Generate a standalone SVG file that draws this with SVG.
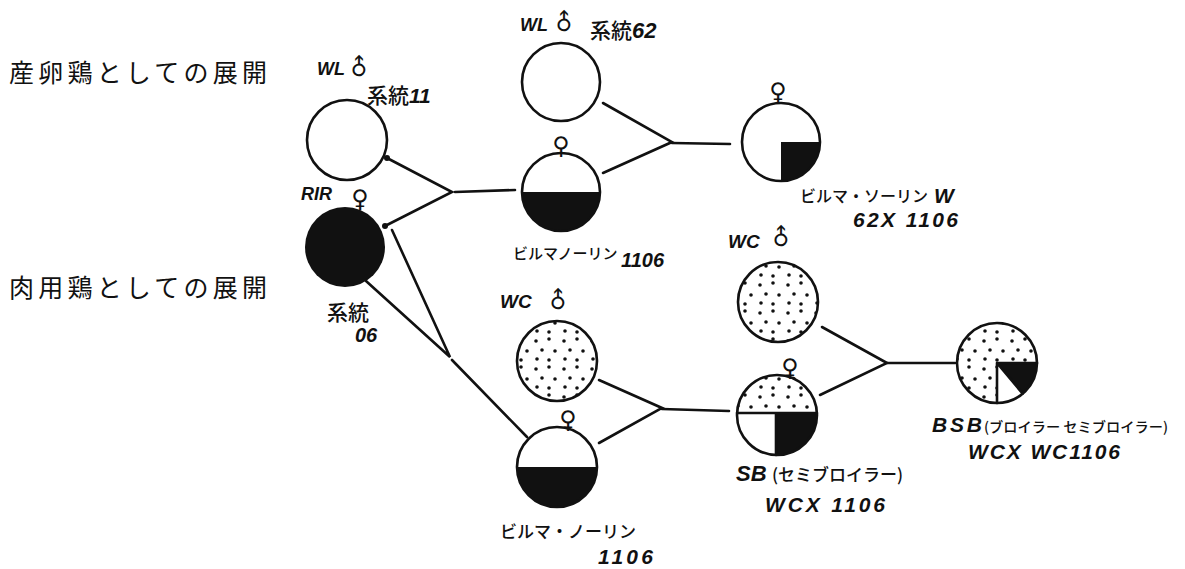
<svg xmlns="http://www.w3.org/2000/svg" width="1185" height="569" viewBox="0 0 1185 569">
  <style>
    .heading { font-family: "Noto Sans CJK JP", sans-serif; font-size: 25px; letter-spacing: 4px; fill: #111; }
    .hand { font-family: "Liberation Sans", "Noto Sans CJK JP", sans-serif; font-style: italic; font-weight: bold; fill: #111; }
    .kana { font-family: "Noto Sans CJK JP", sans-serif; font-weight: 500; fill: #111; }
    .sym { font-family: "DejaVu Sans", sans-serif; fill: #111; text-anchor: middle; }
    .male { font-family: "DejaVu Sans", sans-serif; fill: #111; text-anchor: middle; font-size: 23px; }
    .ring { fill: none; stroke: #111; stroke-width: 2.6; }
    .link { fill: none; stroke: #111; stroke-width: 2.6; stroke-linecap: round; }
    .solid { fill: #111; }
  </style>
  <defs>
    <!-- stipple used for the WC strains -->
    <pattern id="dots" width="28" height="28" patternUnits="userSpaceOnUse">
      <circle cx="4" cy="5" r="1.8" fill="#111"/>
      <circle cx="17" cy="3" r="1.8" fill="#111"/>
      <circle cx="10" cy="14" r="1.8" fill="#111"/>
      <circle cx="23" cy="15" r="1.8" fill="#111"/>
      <circle cx="5" cy="23" r="1.8" fill="#111"/>
      <circle cx="17" cy="24" r="1.8" fill="#111"/>
    </pattern>
  </defs>
  <rect width="1185" height="569" fill="#fff"/>

  <!-- row headings -->
  <text class="heading" x="9" y="82" textLength="262">産卵鶏としての展開</text>
  <text class="heading" x="9" y="297" textLength="262">肉用鶏としての展開</text>

  <!-- connectors -->
  <g id="connectors">
    <path class="link" d="M387,158 L452,192 L385,226"/>
    <path class="link" d="M455,192 L515,190"/>
    <path class="link" d="M392,230 L450,357 L366,281"/>
    <path class="link" d="M452,360 L527,437"/>
    <path class="link" d="M603,103 L672,142 L603,173"/>
    <path class="link" d="M672,143 L730,144"/>
    <path class="link" d="M599,380 L662,408 L599,443"/>
    <path class="link" d="M662,409 L729,411"/>
    <path class="link" d="M822,327 L887,363 L820,395"/>
    <path class="link" d="M887,363 L955,363"/>
    <circle class="solid" cx="387" cy="158" r="3"/>
    <circle class="solid" cx="385" cy="226" r="3"/>
  </g>

  <!-- WL male, line 11 -->
  <g id="wl11">
    <circle class="ring" cx="347" cy="140" r="40" fill="#fff"/>
    <text class="hand" x="317" y="75" style="font-size:18px">WL</text>
    <text class="male" x="359" y="75" transform="rotate(-45 359 67)">♂</text>
    <text class="kana" x="367" y="103" style="font-size:21px">系統<tspan class="hand">11</tspan></text>
  </g>

  <!-- RIR female, line 06 -->
  <g id="rir06">
    <circle cx="345" cy="247" r="40" fill="#111"/>
    <text class="hand" x="301" y="200" style="font-size:18px">RIR</text>
    <text class="sym" x="360" y="207" style="font-size:24px">♀</text>
    <text class="kana" x="327" y="320" style="font-size:21px">系統</text>
    <text class="hand" x="355" y="342" style="font-size:20px">06</text>
  </g>

  <!-- WL male, line 62 -->
  <g id="wl62">
    <circle class="ring" cx="561" cy="82" r="39" fill="#fff"/>
    <text class="hand" x="520" y="31" style="font-size:18px">WL</text>
    <text class="male" x="564" y="30" transform="rotate(-45 564 22)">♂</text>
    <text class="kana" x="590" y="38" style="font-size:21px">系統<tspan class="hand" style="font-size:22px">62</tspan></text>
  </g>

  <!-- Burma-Norin 1106, layer side -->
  <g id="burma1106-top">
    <circle cx="561" cy="192" r="39" fill="#fff"/>
    <path class="solid" d="M522,192 A39,39 0 0 0 600,192 Z"/>
    <circle class="ring" cx="561" cy="192" r="39"/>
    <text class="sym" x="561" y="154" style="font-size:24px">♀</text>
    <text class="kana" x="513" y="259" style="font-size:15px">ビルマノーリン</text>
    <text class="hand" x="621" y="267" style="font-size:20px">1106</text>
  </g>

  <!-- Burma-Norin W 62x1106 -->
  <g id="burmaW">
    <circle cx="781" cy="142" r="39" fill="#fff"/>
    <path class="solid" d="M781,142 L820,142 A39,39 0 0 1 781,181 Z"/>
    <circle class="ring" cx="781" cy="142" r="39"/>
    <text class="sym" x="778" y="100" style="font-size:24px">♀</text>
    <text class="kana" x="800" y="202" style="font-size:16px">ビルマ・ソーリン</text>
    <text class="hand" x="934" y="203" style="font-size:21px">W</text>
    <text class="hand" x="853" y="227" style="font-size:21px" textLength="105">62X 1106</text>
  </g>

  <!-- WC male, broiler side -->
  <g id="wc-left">
    <circle cx="557" cy="361" r="40" fill="url(#dots)"/>
    <circle class="ring" cx="557" cy="361" r="40"/>
    <text class="hand" x="500" y="308" style="font-size:19px">WC</text>
    <text class="male" x="558" y="308" transform="rotate(-45 558 300)">♂</text>
  </g>

  <!-- Burma-Norin 1106, broiler side -->
  <g id="burma1106-bottom">
    <circle cx="557" cy="467" r="40" fill="#fff"/>
    <path class="solid" d="M517,467 A40,40 0 0 0 597,467 Z"/>
    <circle class="ring" cx="557" cy="467" r="40"/>
    <text class="sym" x="568" y="428" style="font-size:24px">♀</text>
    <text class="kana" x="500" y="538" style="font-size:17px">ビルマ・ノーリン</text>
    <text class="hand" x="598" y="564" style="font-size:21px" textLength="55">1106</text>
  </g>

  <!-- WC male, second cross -->
  <g id="wc-right">
    <circle cx="778" cy="302" r="40" fill="url(#dots)"/>
    <circle class="ring" cx="778" cy="302" r="40"/>
    <text class="hand" x="728" y="248" style="font-size:19px">WC</text>
    <text class="male" x="781" y="245" transform="rotate(-45 781 237)">♂</text>
  </g>

  <!-- SB semi-broiler -->
  <g id="sb">
    <circle cx="777" cy="415" r="40" fill="#fff"/>
    <path d="M737,413 A40,40 0 0 1 817,413 Z" fill="url(#dots)"/>
    <path class="solid" d="M776,413 L817,413 A40,40 0 0 1 776,455 Z"/>
    <path class="link" d="M737,413 L817,413 M776,413 L776,455"/>
    <circle class="ring" cx="777" cy="415" r="40"/>
    <text class="sym" x="790" y="376" style="font-size:24px">♀</text>
    <text class="hand" x="736" y="481" style="font-size:22px">SB</text>
    <text class="kana" x="772" y="481" style="font-size:17px">(セミブロイラー)</text>
    <text class="hand" x="765" y="512" style="font-size:21px" textLength="120">WCX 1106</text>
  </g>

  <!-- BSB broiler / semi-broiler -->
  <g id="bsb">
    <circle cx="997" cy="363" r="40" fill="url(#dots)"/>
    <path d="M997,363 L1037,363 A40,40 0 0 1 997,403 Z" fill="#fff"/>
    <path class="solid" d="M997,363 L1037,363 A40,40 0 0 1 1022.7,393.6 Z"/>
    <path class="link" d="M997,363 L1037,363 M997,363 L997,403 M997,363 L1022.7,393.6"/>
    <circle class="ring" cx="997" cy="363" r="40"/>
    <text class="hand" x="932" y="432" style="font-size:21px" textLength="50">BSB</text>
    <text class="kana" x="984" y="432" style="font-size:14px" textLength="184" lengthAdjust="spacingAndGlyphs">(ブロイラー セミブロイラー)</text>
    <text class="hand" x="968" y="459" style="font-size:21px" textLength="152">WCX WC1106</text>
  </g>
</svg>
